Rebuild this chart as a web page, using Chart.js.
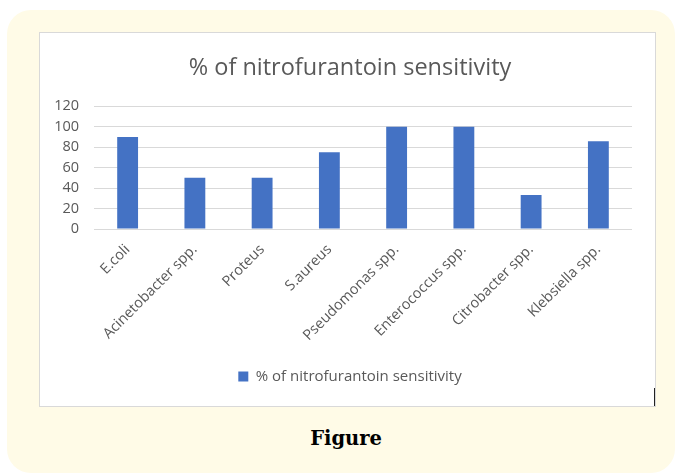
<!DOCTYPE html>
<html lang="en">
<head>
    <meta charset="UTF-8">
    <title>% of nitrofurantoin sensitivity</title>
    <script src="https://cdn.jsdelivr.net/npm/chart.js"></script>
    <style>
        body { margin: 0; background: #fff; width: 677px; height: 474px; overflow: hidden; position: relative; }
        .panel {
            position: absolute; left: 7px; top: 10px; width: 668px; height: 463px;
            background: #fffbe7; border-radius: 24px;
        }
        .chart-box {
            position: absolute; left: 39px; top: 32px; width: 615px; height: 373px;
            background: #fff; border: 1px solid #d9d9d9;
        }
        #sensChart { position: absolute; left: 40px; top: 33px; }
        .edge-mark { position: absolute; left: 654px; top: 388px; width: 1px; height: 18px; background: #222; }
        .caption {
            position: absolute; left: 0; width: 692px; top: 427px; text-align: center;
            font-family: "DejaVu Serif", serif; font-weight: bold; font-size: 19.5px; color: #000;
        }
    </style>
</head>
<body>
    <div class="panel"></div>
    <div class="chart-box"></div>
    <canvas id="sensChart" width="620" height="373"></canvas>
    <div class="edge-mark"></div>
    <div class="caption">Figure</div>

    <script>
        // Data
        const organisms = ['E.coli', 'Acinetobacter spp.', 'Proteus', 'S.aureus', 'Pseudomonas spp.',
                           'Enterococcus spp.', 'Citrobacter spp.', 'Klebsiella spp.'];
        const sensitivity = [90, 50, 50, 75, 100, 100, 33.3, 85.7];
        const yTicks = [0, 20, 40, 60, 80, 100, 120];

        const textColor = '#595959';
        const fontFamily = '"Open Sans", sans-serif';

        new Chart(document.getElementById('sensChart'), {
            type: 'bar',
            data: {
                labels: organisms,
                datasets: [{
                    label: '% of nitrofurantoin sensitivity',
                    data: sensitivity,
                    backgroundColor: '#4472c4',
                    barPercentage: 0.62,
                    categoryPercentage: 0.5
                }]
            },
            options: {
                responsive: false,
                animation: false,
                layout: { padding: { left: 0, right: 0, top: 0, bottom: 12 } },
                plugins: {
                    title: {
                        display: true,
                        text: '% of nitrofurantoin sensitivity',
                        color: textColor,
                        font: { family: fontFamily, size: 23.5, weight: 'normal' },
                        padding: { top: 21, bottom: 24 }
                    },
                    legend: {
                        position: 'bottom',
                        labels: {
                            color: textColor,
                            font: { family: fontFamily, size: 15 },
                            boxWidth: 10, boxHeight: 10, padding: 10
                        }
                    },
                    tooltip: { enabled: false }
                },
                scales: {
                    y: {
                        min: 0, max: 120,
                        afterBuildTicks: s => { s.ticks = yTicks.map(v => ({ value: v })); },
                        afterFit: s => { s.width = 54; },
                        border: { display: false },
                        grid: { color: '#d9d9d9', drawTicks: false },
                        ticks: { color: textColor, font: { family: fontFamily, size: 14.5 }, padding: 15 }
                    },
                    // empty spacer on the right so title/legend centre like the original
                    yRight: {
                        position: 'right',
                        afterFit: s => { s.width = 28; },
                        border: { display: false },
                        grid: { display: false },
                        ticks: { display: false }
                    },
                    x: {
                        afterFit: s => { s.height = 130; },
                        border: { display: false },
                        grid: { display: false },
                        ticks: {
                            color: textColor, font: { family: fontFamily, size: 14.5 },
                            minRotation: 45, maxRotation: 45, padding: 4
                        }
                    }
                }
            }
        });
    </script>
</body>
</html>
